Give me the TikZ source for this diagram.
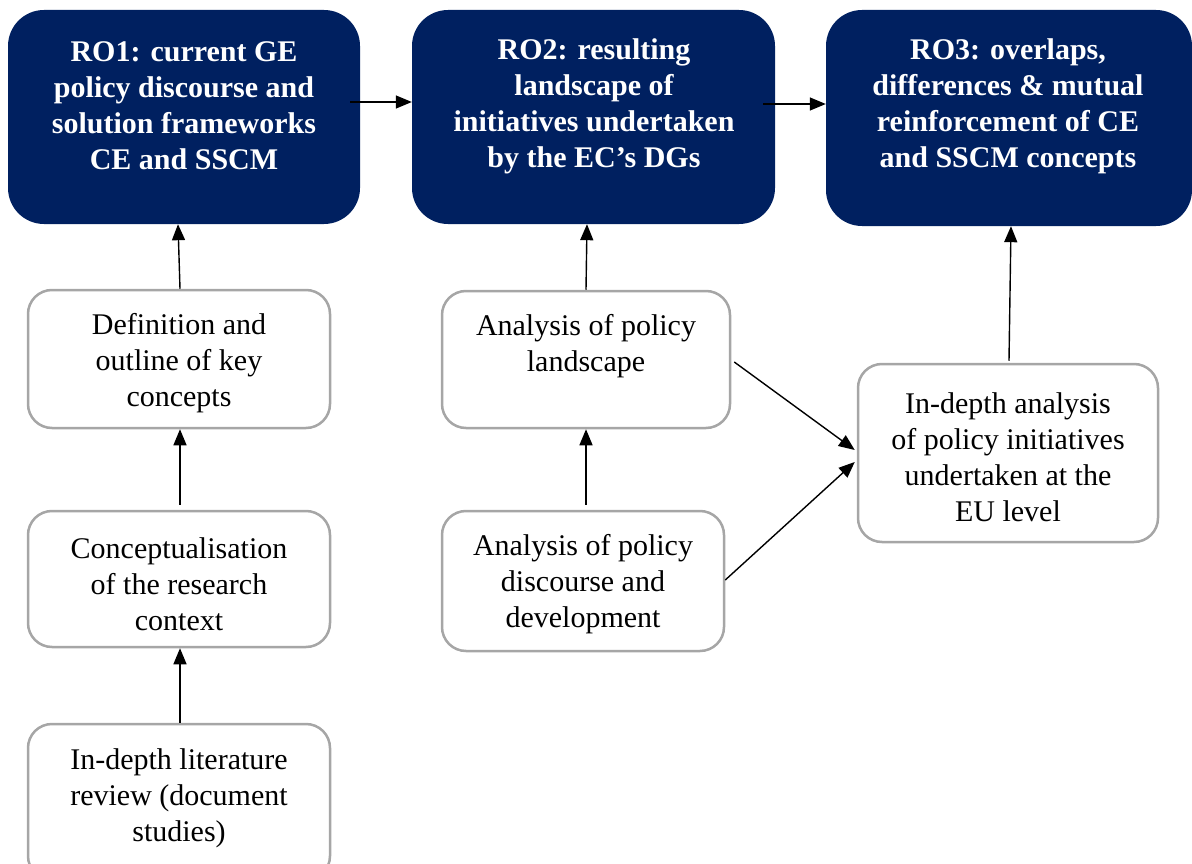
\documentclass[tikz,border=0pt]{standalone}
\usepackage{fontspec}
\setmainfont{Liberation Serif}
\usetikzlibrary{arrows.meta}
\definecolor{navy}{HTML}{002060}
\definecolor{boxgray}{HTML}{A6A6A6}
\begin{document}
\begin{tikzpicture}[x=1pt,y=-1pt,
  navybox/.style={draw=none,fill=navy,rounded corners=36pt,inner sep=0pt},
  wbox/.style={draw=boxgray,line width=2.5pt,fill=white,rounded corners=24pt,inner sep=0pt},
  ttext/.style={text=white,font=\fontsize{30}{36}\selectfont\bfseries,align=center,inner sep=0pt},
  wtext/.style={text=black,font=\fontsize{30}{36}\selectfont,align=center,inner sep=0pt},
  conn/.style={line width=1.4pt,-{Triangle[length=16pt,width=13pt]}}]
\clip (0,0) rectangle (1192,864);
\useasboundingbox (0,0) rectangle (1192,864);
% top boxes
\node[navybox,minimum width=352pt,minimum height=214pt] (ro1) at (184,117) {};
\node[navybox,minimum width=363pt,minimum height=214pt] (ro2) at (593.5,117) {};
\node[navybox,minimum width=366pt,minimum height=216pt] (ro3) at (1009,118) {};
\node[ttext] (t1) at (184,106) {RO1: current GE\\policy discourse and\\solution frameworks\\CE and SSCM};
\node[ttext] (t2) at (594,106) {RO2: resulting\\landscape of\\initiatives undertaken\\by the EC’s DGs};
\node[ttext] (t3) at (1008,106) {RO3: overlaps,\\differences \& mutual\\reinforcement of CE\\and SSCM concepts};
% white boxes
\node[wbox,minimum width=302pt,minimum height=138pt] (def) at (179,359) {};
\node[wtext] (tdef) at (179,363) {Definition and\\outline of key\\concepts};
\node[wbox,minimum width=302pt,minimum height=136pt] (conc) at (179,579) {};
\node[wtext] (tconc) at (179,584) {Conceptualisation\\of the research\\context};
\node[wbox,minimum width=302pt,minimum height=156pt] (lit) at (179,802) {};
\node[wtext] (tlit) at (179,798) {In-depth literature\\review (document\\studies)};
\node[wbox,minimum width=288pt,minimum height=137pt] (land) at (586,359.5) {};
\node[wtext] (tland) at (586,346) {Analysis of policy\\landscape};
\node[wbox,minimum width=282pt,minimum height=140pt] (disc) at (583,581) {};
\node[wtext] (tdisc) at (583,584) {Analysis of policy\\discourse and\\development};
\node[wbox,minimum width=300pt,minimum height=178pt] (ind) at (1008,453) {};
\node[wtext] (tind) at (1008,457) {In-depth analysis\\of policy initiatives\\undertaken at the\\EU level};
% connectors
\draw[conn] ([xshift=-10pt,yshift=15pt]ro1.east) -- ([yshift=15pt]ro2.west);
\draw[conn] ([xshift=-12pt,yshift=13pt]ro2.east) -- ([yshift=14pt]ro3.west);
\draw[conn] ([xshift=1pt]def.north) -- ([xshift=-6pt]ro1.south);
\draw[conn] ([xshift=1pt,yshift=5pt]conc.north) -- ([xshift=1pt]def.south);
\draw[conn] ([xshift=1pt]lit.north) -- ([xshift=1pt]conc.south);
\draw[conn] (land.north) -- ([xshift=-6.5pt]ro2.south);
\draw[conn] ([xshift=3pt,yshift=5pt]disc.north) -- (land.south);
\draw[conn] ([xshift=3pt,yshift=-2.5pt]land.east) -- ([xshift=-2pt,yshift=3pt]ind.west);
\draw[conn] ([yshift=1pt]disc.east) -- ([xshift=-2pt,yshift=-9pt]ind.west);
\draw[conn] ([xshift=1pt,yshift=2pt]ind.north) -- ([xshift=2pt]ro3.south);
\end{tikzpicture}
\end{document}
